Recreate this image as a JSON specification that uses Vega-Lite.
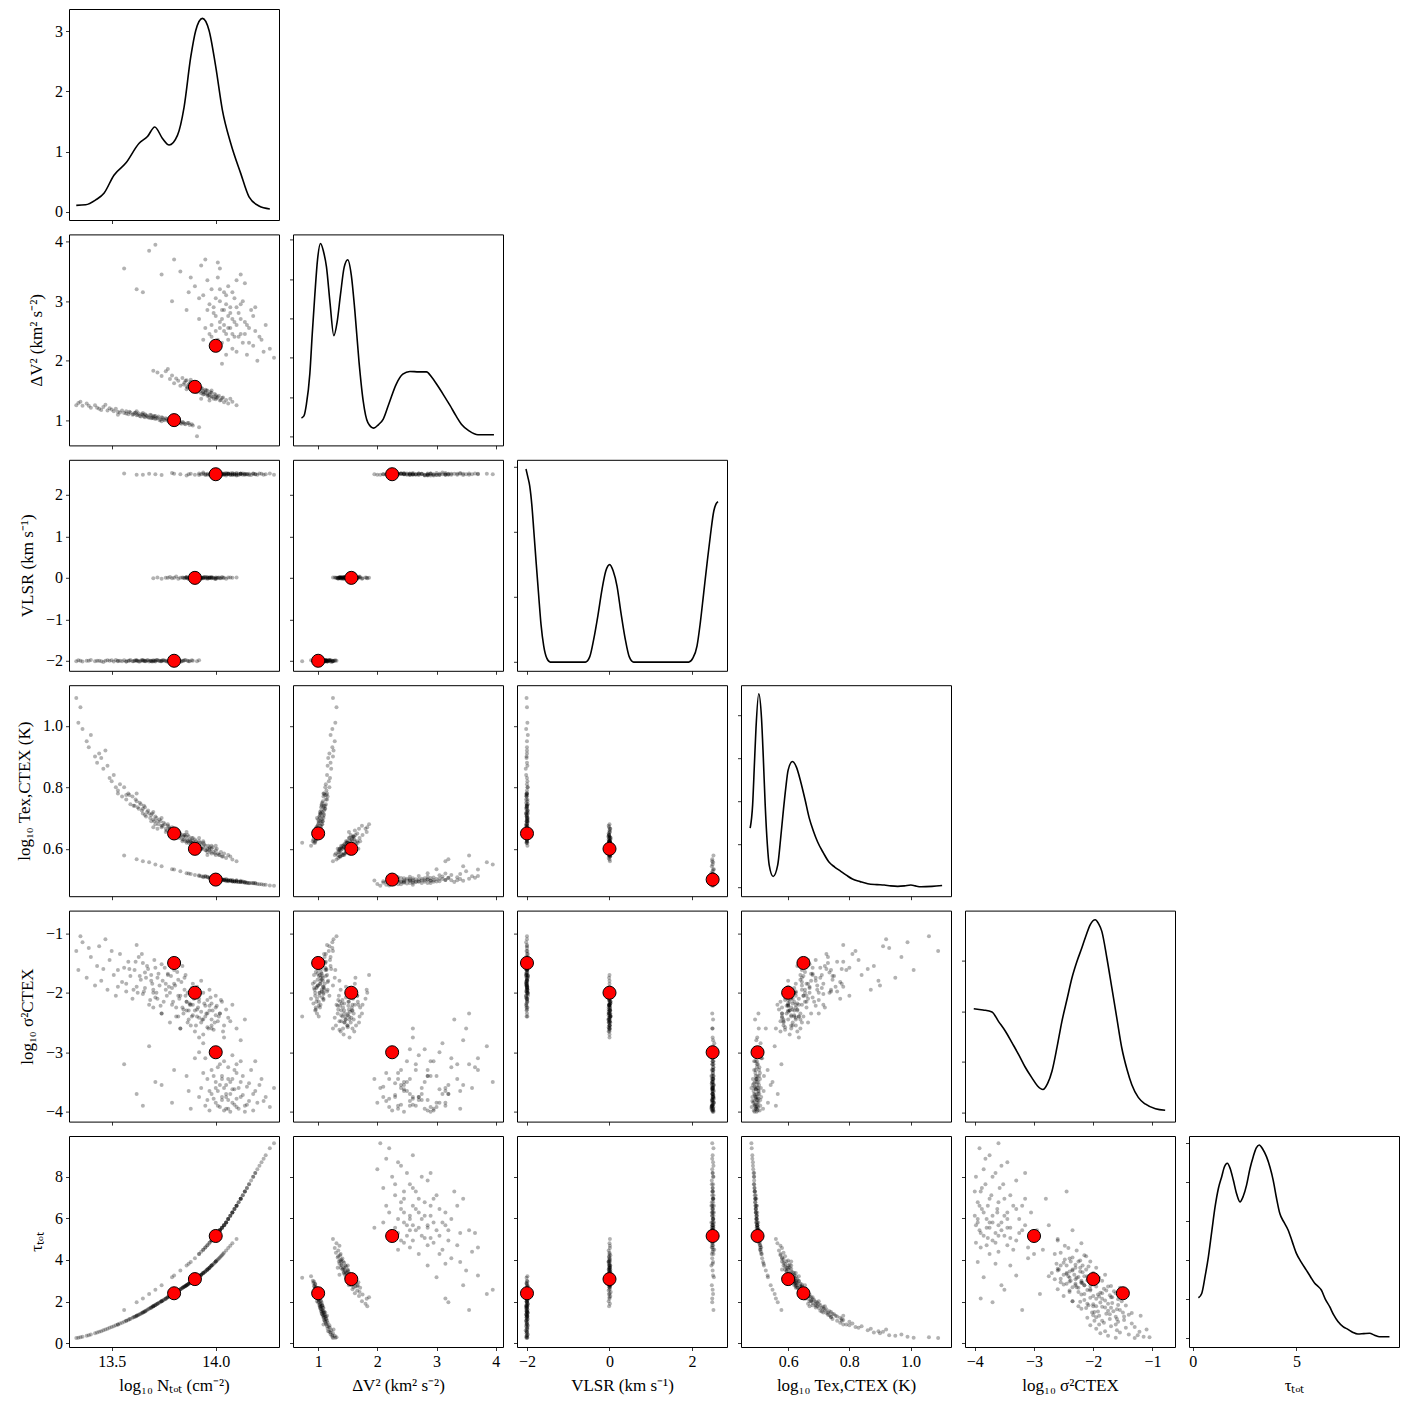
{
"$schema":"https://vega.github.io/schema/vega-lite/v6.json",
"background":"white",
"padding":{"left":15,"top":8,"right":5,"bottom":5},
"bounds":"flush",
"columns":6,
"spacing":{"row":14.4,"column":14},
"datasets":{
"samples":[
{"n":13.33,"dv":1.25,"v":-2.01,"t":1.09,"s":-1.30,"tau":0.25},
{"n":13.34,"dv":1.29,"v":-1.99,"t":1.01,"s":-1.62,"tau":0.27},
{"n":13.36,"dv":1.24,"v":-2.02,"t":0.99,"s":-1.15,"tau":0.31},
{"n":13.38,"dv":1.28,"v":-2.00,"t":0.95,"s":-1.75,"tau":0.36},
{"n":13.40,"dv":1.21,"v":-1.98,"t":0.97,"s":-1.40,"tau":0.42},
{"n":13.42,"dv":1.25,"v":-2.01,"t":0.90,"s":-1.88,"tau":0.48},
{"n":13.44,"dv":1.19,"v":-2.00,"t":0.91,"s":-1.22,"tau":0.55},
{"n":13.46,"dv":1.22,"v":-2.03,"t":0.86,"s":-1.60,"tau":0.62},
{"n":13.48,"dv":1.16,"v":-1.99,"t":0.87,"s":-1.95,"tau":0.70},
{"n":13.49,"dv":1.20,"v":-2.00,"t":0.83,"s":-1.45,"tau":0.74},
{"n":13.51,"dv":1.15,"v":-2.02,"t":0.84,"s":-1.70,"tau":0.82},
{"n":13.52,"dv":1.19,"v":-1.98,"t":0.80,"s":-2.05,"tau":0.86},
{"n":13.54,"dv":1.13,"v":-2.00,"t":0.81,"s":-1.35,"tau":0.95},
{"n":13.55,"dv":1.16,"v":-2.01,"t":0.77,"s":-1.82,"tau":0.99},
{"n":13.56,"dv":1.12,"v":-1.99,"t":0.80,"s":-1.58,"tau":1.03},
{"n":13.57,"dv":1.15,"v":-2.02,"t":0.76,"s":-1.98,"tau":1.08},
{"n":13.58,"dv":1.10,"v":-2.00,"t":0.78,"s":-1.48,"tau":1.12},
{"n":13.59,"dv":1.13,"v":-1.98,"t":0.745,"s":-1.72,"tau":1.17},
{"n":13.60,"dv":1.09,"v":-2.01,"t":0.77,"s":-2.10,"tau":1.22},
{"n":13.61,"dv":1.12,"v":-2.00,"t":0.74,"s":-1.62,"tau":1.27},
{"n":13.62,"dv":1.08,"v":-1.99,"t":0.755,"s":-1.90,"tau":1.32},
{"n":13.63,"dv":1.11,"v":-2.02,"t":0.73,"s":-1.40,"tau":1.37},
{"n":13.64,"dv":1.06,"v":-2.00,"t":0.745,"s":-1.78,"tau":1.42},
{"n":13.65,"dv":1.09,"v":-1.98,"t":0.715,"s":-2.02,"tau":1.48},
{"n":13.66,"dv":1.05,"v":-2.01,"t":0.735,"s":-1.66,"tau":1.54},
{"n":13.66,"dv":1.10,"v":-2.00,"t":0.71,"s":-1.92,"tau":1.53},
{"n":13.67,"dv":1.07,"v":-1.99,"t":0.72,"s":-1.55,"tau":1.60},
{"n":13.68,"dv":1.04,"v":-2.02,"t":0.715,"s":-2.20,"tau":1.66},
{"n":13.69,"dv":1.08,"v":-2.00,"t":0.69,"s":-1.80,"tau":1.72},
{"n":13.69,"dv":1.03,"v":-2.01,"t":0.71,"s":-1.70,"tau":1.71},
{"n":13.70,"dv":1.06,"v":-1.99,"t":0.695,"s":-1.95,"tau":1.78},
{"n":13.71,"dv":1.02,"v":-2.00,"t":0.705,"s":-1.58,"tau":1.84},
{"n":13.71,"dv":1.07,"v":-2.02,"t":0.68,"s":-2.08,"tau":1.83},
{"n":13.72,"dv":1.04,"v":-1.98,"t":0.69,"s":-1.75,"tau":1.90},
{"n":13.73,"dv":1.00,"v":-2.00,"t":0.695,"s":-1.88,"tau":1.96},
{"n":13.74,"dv":1.05,"v":-2.01,"t":0.67,"s":-1.52,"tau":2.02},
{"n":13.75,"dv":1.01,"v":-1.99,"t":0.685,"s":-2.15,"tau":2.08},
{"n":13.76,"dv":1.03,"v":-2.00,"t":0.665,"s":-1.85,"tau":2.14},
{"n":13.77,"dv":0.99,"v":-2.02,"t":0.675,"s":-1.68,"tau":2.21},
{"n":13.78,"dv":1.02,"v":-1.98,"t":0.655,"s":-2.00,"tau":2.27},
{"n":13.79,"dv":0.97,"v":-2.00,"t":0.67,"s":-1.92,"tau":2.34},
{"n":13.80,"dv":1.00,"v":-2.01,"t":0.645,"s":-1.62,"tau":2.40},
{"n":13.81,"dv":0.96,"v":-1.99,"t":0.66,"s":-2.25,"tau":2.46},
{"n":13.82,"dv":0.99,"v":-2.00,"t":0.64,"s":-1.78,"tau":2.53},
{"n":13.83,"dv":0.95,"v":-2.02,"t":0.65,"s":-2.05,"tau":2.59},
{"n":13.84,"dv":0.97,"v":-2.00,"t":0.63,"s":-1.55,"tau":2.66},
{"n":13.85,"dv":0.94,"v":-1.99,"t":0.645,"s":-1.95,"tau":2.72},
{"n":13.87,"dv":0.95,"v":-2.01,"t":0.62,"s":-2.30,"tau":2.86},
{"n":13.89,"dv":0.91,"v":-2.00,"t":0.625,"s":-1.85,"tau":3.00},
{"n":13.92,"dv":0.88,"v":-1.99,"t":0.61,"s":-2.10,"tau":3.22},
{"n":13.91,"dv":0.73,"v":-2.01,"t":0.62,"s":-2.40,"tau":3.15},
{"n":13.47,"dv":1.26,"v":-2.00,"t":0.92,"s":-1.10,"tau":0.66},
{"n":13.53,"dv":1.09,"v":-2.01,"t":0.78,"s":-1.90,"tau":0.90},
{"n":13.62,"dv":1.15,"v":-2.00,"t":0.78,"s":-1.20,"tau":1.32},
{"n":13.74,"dv":0.98,"v":-2.00,"t":0.70,"s":-2.35,"tau":2.02},
{"n":13.35,"dv":1.31,"v":-2.00,"t":1.06,"s":-1.05,"tau":0.29},
{"n":13.585,"dv":1.14,"v":-2.00,"t":0.775,"s":-1.60,"tau":1.17},
{"n":13.605,"dv":1.10,"v":-2.01,"t":0.74,"s":-1.95,"tau":1.25},
{"n":13.615,"dv":1.13,"v":-1.99,"t":0.76,"s":-1.48,"tau":1.29},
{"n":13.625,"dv":1.09,"v":-2.00,"t":0.735,"s":-2.00,"tau":1.34},
{"n":13.635,"dv":1.07,"v":-2.02,"t":0.75,"s":-1.72,"tau":1.39},
{"n":13.645,"dv":1.10,"v":-1.98,"t":0.725,"s":-1.35,"tau":1.45},
{"n":13.655,"dv":1.06,"v":-2.00,"t":0.74,"s":-1.98,"tau":1.50},
{"n":13.665,"dv":1.08,"v":-2.01,"t":0.705,"s":-1.75,"tau":1.56},
{"n":13.675,"dv":1.05,"v":-1.99,"t":0.725,"s":-1.60,"tau":1.63},
{"n":13.685,"dv":1.09,"v":-2.00,"t":0.70,"s":-2.12,"tau":1.69},
{"n":13.695,"dv":1.04,"v":-2.02,"t":0.715,"s":-1.85,"tau":1.75},
{"n":13.705,"dv":1.07,"v":-2.00,"t":0.69,"s":-1.45,"tau":1.81},
{"n":13.715,"dv":1.03,"v":-1.98,"t":0.70,"s":-2.00,"tau":1.87},
{"n":13.725,"dv":1.06,"v":-2.00,"t":0.68,"s":-1.68,"tau":1.93},
{"n":13.735,"dv":1.01,"v":-2.01,"t":0.69,"s":-2.22,"tau":1.99},
{"n":13.745,"dv":1.04,"v":-1.99,"t":0.675,"s":-1.80,"tau":2.05},
{"n":13.755,"dv":1.00,"v":-2.00,"t":0.68,"s":-1.58,"tau":2.11},
{"n":13.765,"dv":1.02,"v":-2.02,"t":0.66,"s":-2.05,"tau":2.18},
{"n":13.775,"dv":0.98,"v":-2.00,"t":0.67,"s":-1.90,"tau":2.24},
{"n":13.785,"dv":1.01,"v":-1.98,"t":0.65,"s":-1.72,"tau":2.30},
{"n":13.795,"dv":0.97,"v":-2.00,"t":0.66,"s":-2.15,"tau":2.37},
{"n":13.805,"dv":0.99,"v":-2.01,"t":0.645,"s":-1.88,"tau":2.43},
{"n":13.815,"dv":0.96,"v":-1.99,"t":0.655,"s":-1.65,"tau":2.50},
{"n":13.825,"dv":0.98,"v":-2.00,"t":0.635,"s":-2.10,"tau":2.56},
{"n":13.835,"dv":0.94,"v":-2.02,"t":0.645,"s":-1.82,"tau":2.62},
{"n":13.845,"dv":0.96,"v":-2.00,"t":0.63,"s":-2.28,"tau":2.69},
{"n":13.855,"dv":0.93,"v":-1.98,"t":0.64,"s":-1.70,"tau":2.75},
{"n":13.865,"dv":0.95,"v":-2.00,"t":0.625,"s":-2.00,"tau":2.82},
{"n":13.875,"dv":0.92,"v":-2.01,"t":0.63,"s":-2.18,"tau":2.89},
{"n":13.885,"dv":0.93,"v":-1.99,"t":0.62,"s":-1.92,"tau":2.96},
{"n":13.43,"dv":1.21,"v":-2.00,"t":0.88,"s":-1.55,"tau":0.52},
{"n":13.45,"dv":1.17,"v":-2.01,"t":0.895,"s":-1.80,"tau":0.58},
{"n":13.50,"dv":1.18,"v":-1.99,"t":0.82,"s":-1.30,"tau":0.78},
{"n":13.53,"dv":1.14,"v":-2.00,"t":0.79,"s":-1.62,"tau":0.90},
{"n":13.57,"dv":1.11,"v":-2.02,"t":0.775,"s":-1.85,"tau":1.08},
{"n":13.65,"dv":1.12,"v":-2.00,"t":0.73,"s":-1.50,"tau":1.48},
{"n":13.70,"dv":1.03,"v":-2.01,"t":0.72,"s":-2.25,"tau":1.78},
{"n":13.78,"dv":0.96,"v":-2.00,"t":0.665,"s":-1.45,"tau":2.27},
{"n":13.82,"dv":1.01,"v":-1.99,"t":0.65,"s":-2.40,"tau":2.53},
{"n":13.39,"dv":1.24,"v":-2.00,"t":0.93,"s":-1.25,"tau":0.39},
{"n":13.72,"dv":1.80,"v":0.01,"t":0.665,"s":-2.10,"tau":1.90},
{"n":13.74,"dv":1.74,"v":-0.02,"t":0.675,"s":-2.35,"tau":2.02},
{"n":13.76,"dv":1.82,"v":0.00,"t":0.655,"s":-1.95,"tau":2.14},
{"n":13.78,"dv":1.69,"v":0.02,"t":0.665,"s":-2.50,"tau":2.27},
{"n":13.79,"dv":1.75,"v":-0.01,"t":0.645,"s":-2.20,"tau":2.34},
{"n":13.80,"dv":1.62,"v":0.00,"t":0.66,"s":-1.85,"tau":2.40},
{"n":13.81,"dv":1.70,"v":0.03,"t":0.635,"s":-2.40,"tau":2.46},
{"n":13.82,"dv":1.66,"v":-0.02,"t":0.65,"s":-2.05,"tau":2.53},
{"n":13.83,"dv":1.58,"v":0.00,"t":0.64,"s":-2.60,"tau":2.59},
{"n":13.84,"dv":1.71,"v":0.01,"t":0.625,"s":-2.25,"tau":2.66},
{"n":13.85,"dv":1.63,"v":-0.01,"t":0.645,"s":-1.75,"tau":2.72},
{"n":13.86,"dv":1.57,"v":0.02,"t":0.63,"s":-2.30,"tau":2.79},
{"n":13.86,"dv":1.67,"v":0.00,"t":0.62,"s":-2.15,"tau":2.79},
{"n":13.87,"dv":1.60,"v":-0.03,"t":0.64,"s":-2.45,"tau":2.86},
{"n":13.88,"dv":1.54,"v":0.00,"t":0.625,"s":-1.98,"tau":2.93},
{"n":13.88,"dv":1.64,"v":0.01,"t":0.615,"s":-2.55,"tau":2.93},
{"n":13.89,"dv":1.58,"v":-0.01,"t":0.635,"s":-2.20,"tau":3.00},
{"n":13.89,"dv":1.50,"v":0.02,"t":0.62,"s":-2.38,"tau":3.00},
{"n":13.90,"dv":1.55,"v":0.00,"t":0.61,"s":-2.08,"tau":3.07},
{"n":13.90,"dv":1.61,"v":-0.02,"t":0.63,"s":-2.65,"tau":3.07},
{"n":13.91,"dv":1.52,"v":0.01,"t":0.615,"s":-2.28,"tau":3.14},
{"n":13.91,"dv":1.47,"v":0.00,"t":0.60,"s":-1.90,"tau":3.14},
{"n":13.92,"dv":1.56,"v":-0.01,"t":0.625,"s":-2.42,"tau":3.22},
{"n":13.92,"dv":1.51,"v":0.03,"t":0.605,"s":-2.15,"tau":3.22},
{"n":13.93,"dv":1.45,"v":0.00,"t":0.615,"s":-2.50,"tau":3.29},
{"n":13.93,"dv":1.54,"v":-0.02,"t":0.60,"s":-2.32,"tau":3.29},
{"n":13.94,"dv":1.49,"v":0.01,"t":0.62,"s":-2.00,"tau":3.37},
{"n":13.94,"dv":1.43,"v":0.00,"t":0.605,"s":-2.70,"tau":3.37},
{"n":13.95,"dv":1.51,"v":-0.01,"t":0.595,"s":-2.22,"tau":3.45},
{"n":13.95,"dv":1.46,"v":0.02,"t":0.61,"s":-2.40,"tau":3.45},
{"n":13.96,"dv":1.41,"v":0.00,"t":0.60,"s":-2.12,"tau":3.54},
{"n":13.96,"dv":1.50,"v":-0.02,"t":0.59,"s":-2.58,"tau":3.54},
{"n":13.97,"dv":1.44,"v":0.01,"t":0.605,"s":-2.30,"tau":3.63},
{"n":13.97,"dv":1.38,"v":0.00,"t":0.595,"s":-1.95,"tau":3.63},
{"n":13.98,"dv":1.46,"v":-0.01,"t":0.585,"s":-2.45,"tau":3.73},
{"n":13.98,"dv":1.40,"v":0.02,"t":0.60,"s":-2.18,"tau":3.73},
{"n":13.99,"dv":1.36,"v":0.00,"t":0.59,"s":-2.62,"tau":3.82},
{"n":14.00,"dv":1.42,"v":-0.02,"t":0.58,"s":-2.25,"tau":3.92},
{"n":14.00,"dv":1.35,"v":0.01,"t":0.595,"s":-2.05,"tau":3.92},
{"n":14.01,"dv":1.39,"v":0.00,"t":0.585,"s":-2.48,"tau":4.02},
{"n":14.02,"dv":1.33,"v":-0.01,"t":0.58,"s":-2.35,"tau":4.12},
{"n":14.03,"dv":1.37,"v":0.02,"t":0.575,"s":-2.15,"tau":4.23},
{"n":14.04,"dv":1.30,"v":0.00,"t":0.585,"s":-2.55,"tau":4.34},
{"n":14.05,"dv":1.34,"v":-0.02,"t":0.57,"s":-2.28,"tau":4.45},
{"n":14.06,"dv":1.28,"v":0.01,"t":0.58,"s":-2.42,"tau":4.57},
{"n":14.08,"dv":1.31,"v":0.00,"t":0.565,"s":-2.20,"tau":4.80},
{"n":13.77,"dv":1.86,"v":0.00,"t":0.68,"s":-1.70,"tau":2.21},
{"n":13.70,"dv":1.83,"v":-0.01,"t":0.67,"s":-2.00,"tau":1.78},
{"n":14.10,"dv":1.25,"v":0.01,"t":0.56,"s":-2.60,"tau":5.00},
{"n":13.93,"dv":1.36,"v":0.00,"t":0.60,"s":-1.80,"tau":3.29},
{"n":13.845,"dv":1.60,"v":0.00,"t":0.64,"s":-2.35,"tau":2.69},
{"n":13.855,"dv":1.66,"v":0.01,"t":0.625,"s":-2.05,"tau":2.75},
{"n":13.865,"dv":1.55,"v":-0.01,"t":0.645,"s":-2.50,"tau":2.82},
{"n":13.875,"dv":1.62,"v":0.00,"t":0.625,"s":-2.20,"tau":2.89},
{"n":13.885,"dv":1.52,"v":0.02,"t":0.635,"s":-2.40,"tau":2.96},
{"n":13.895,"dv":1.59,"v":-0.02,"t":0.615,"s":-2.10,"tau":3.03},
{"n":13.905,"dv":1.49,"v":0.00,"t":0.625,"s":-2.55,"tau":3.10},
{"n":13.915,"dv":1.57,"v":0.01,"t":0.61,"s":-2.25,"tau":3.18},
{"n":13.925,"dv":1.48,"v":-0.01,"t":0.62,"s":-2.00,"tau":3.25},
{"n":13.935,"dv":1.53,"v":0.00,"t":0.60,"s":-2.45,"tau":3.33},
{"n":13.945,"dv":1.44,"v":0.02,"t":0.615,"s":-2.18,"tau":3.41},
{"n":13.955,"dv":1.50,"v":0.00,"t":0.595,"s":-2.35,"tau":3.49},
{"n":13.965,"dv":1.42,"v":-0.01,"t":0.61,"s":-2.60,"tau":3.58},
{"n":13.975,"dv":1.47,"v":0.01,"t":0.59,"s":-2.08,"tau":3.68},
{"n":13.985,"dv":1.39,"v":0.00,"t":0.605,"s":-2.30,"tau":3.77},
{"n":13.995,"dv":1.44,"v":-0.02,"t":0.585,"s":-2.50,"tau":3.87},
{"n":14.005,"dv":1.37,"v":0.00,"t":0.60,"s":-2.22,"tau":3.97},
{"n":14.015,"dv":1.41,"v":0.01,"t":0.58,"s":-2.40,"tau":4.07},
{"n":14.025,"dv":1.34,"v":-0.01,"t":0.59,"s":-2.12,"tau":4.18},
{"n":14.035,"dv":1.38,"v":0.00,"t":0.575,"s":-2.65,"tau":4.29},
{"n":13.90,"dv":1.58,"v":0.01,"t":0.60,"s":-2.30,"tau":3.07},
{"n":13.92,"dv":1.53,"v":0.00,"t":0.635,"s":-2.75,"tau":3.22},
{"n":13.94,"dv":1.47,"v":-0.01,"t":0.625,"s":-2.45,"tau":3.37},
{"n":13.96,"dv":1.44,"v":0.02,"t":0.58,"s":-2.35,"tau":3.54},
{"n":13.88,"dv":1.68,"v":0.00,"t":0.60,"s":-2.20,"tau":2.93},
{"n":13.98,"dv":1.50,"v":0.00,"t":0.61,"s":-2.55,"tau":3.73},
{"n":14.00,"dv":1.39,"v":-0.02,"t":0.61,"s":-2.38,"tau":3.92},
{"n":13.86,"dv":1.52,"v":0.01,"t":0.655,"s":-2.15,"tau":2.79},
{"n":13.97,"dv":1.33,"v":0.00,"t":0.60,"s":-2.22,"tau":3.63},
{"n":14.07,"dv":1.36,"v":0.01,"t":0.575,"s":-2.48,"tau":4.68},
{"n":13.56,"dv":3.55,"v":2.52,"t":0.578,"s":-3.20,"tau":1.60},
{"n":13.62,"dv":3.20,"v":2.49,"t":0.566,"s":-3.70,"tau":1.97},
{"n":13.68,"dv":3.85,"v":2.51,"t":0.556,"s":-2.90,"tau":2.36},
{"n":13.74,"dv":3.45,"v":2.48,"t":0.543,"s":-3.55,"tau":2.78},
{"n":13.79,"dv":3.00,"v":2.53,"t":0.534,"s":-3.85,"tau":3.17},
{"n":13.83,"dv":3.50,"v":2.50,"t":0.527,"s":-2.60,"tau":3.49},
{"n":13.86,"dv":2.85,"v":2.47,"t":0.521,"s":-3.40,"tau":3.73},
{"n":13.88,"dv":3.40,"v":2.51,"t":0.518,"s":-3.95,"tau":3.90},
{"n":13.90,"dv":3.25,"v":2.49,"t":0.515,"s":-3.10,"tau":4.08},
{"n":13.92,"dv":2.70,"v":2.52,"t":0.512,"s":-3.75,"tau":4.29},
{"n":13.93,"dv":3.60,"v":2.50,"t":0.511,"s":-3.60,"tau":4.39},
{"n":13.94,"dv":3.10,"v":2.54,"t":0.510,"s":-2.85,"tau":4.49},
{"n":13.95,"dv":2.55,"v":2.48,"t":0.509,"s":-3.90,"tau":4.60},
{"n":13.96,"dv":3.35,"v":2.51,"t":0.508,"s":-3.45,"tau":4.71},
{"n":13.97,"dv":2.95,"v":2.49,"t":0.507,"s":-3.98,"tau":4.82},
{"n":13.98,"dv":2.40,"v":2.52,"t":0.505,"s":-3.30,"tau":4.93},
{"n":13.98,"dv":3.20,"v":2.50,"t":0.506,"s":-3.70,"tau":4.93},
{"n":13.99,"dv":2.80,"v":2.47,"t":0.504,"s":-2.95,"tau":5.05},
{"n":14.00,"dv":3.05,"v":2.51,"t":0.503,"s":-3.85,"tau":5.16},
{"n":14.00,"dv":2.50,"v":2.49,"t":0.503,"s":-3.50,"tau":5.16},
{"n":14.01,"dv":3.40,"v":2.53,"t":0.502,"s":-3.65,"tau":5.29},
{"n":14.02,"dv":2.65,"v":2.50,"t":0.501,"s":-3.20,"tau":5.42},
{"n":14.02,"dv":3.00,"v":2.48,"t":0.502,"s":-3.92,"tau":5.42},
{"n":14.03,"dv":2.30,"v":2.51,"t":0.500,"s":-3.75,"tau":5.55},
{"n":14.03,"dv":2.85,"v":2.52,"t":0.500,"s":-3.40,"tau":5.55},
{"n":14.04,"dv":3.15,"v":2.49,"t":0.499,"s":-3.60,"tau":5.67},
{"n":14.04,"dv":2.60,"v":2.50,"t":0.499,"s":-2.75,"tau":5.67},
{"n":14.05,"dv":2.95,"v":2.47,"t":0.498,"s":-3.95,"tau":5.80},
{"n":14.05,"dv":2.45,"v":2.53,"t":0.498,"s":-3.55,"tau":5.80},
{"n":14.06,"dv":2.75,"v":2.50,"t":0.497,"s":-3.80,"tau":5.96},
{"n":14.06,"dv":3.25,"v":2.51,"t":0.498,"s":-3.25,"tau":5.96},
{"n":14.07,"dv":2.55,"v":2.49,"t":0.496,"s":-3.70,"tau":6.12},
{"n":14.07,"dv":2.90,"v":2.52,"t":0.497,"s":-4.00,"tau":6.12},
{"n":14.08,"dv":2.20,"v":2.48,"t":0.495,"s":-3.45,"tau":6.28},
{"n":14.08,"dv":2.70,"v":2.50,"t":0.495,"s":-3.05,"tau":6.28},
{"n":14.09,"dv":2.40,"v":2.51,"t":0.494,"s":-3.88,"tau":6.44},
{"n":14.09,"dv":3.05,"v":2.49,"t":0.495,"s":-3.62,"tau":6.44},
{"n":14.10,"dv":2.60,"v":2.53,"t":0.494,"s":-3.78,"tau":6.60},
{"n":14.10,"dv":2.15,"v":2.50,"t":0.493,"s":-3.35,"tau":6.60},
{"n":14.11,"dv":2.80,"v":2.48,"t":0.493,"s":-3.95,"tau":6.77},
{"n":14.12,"dv":2.45,"v":2.51,"t":0.492,"s":-3.50,"tau":6.94},
{"n":14.12,"dv":2.95,"v":2.50,"t":0.493,"s":-3.15,"tau":6.94},
{"n":14.13,"dv":2.30,"v":2.52,"t":0.491,"s":-3.72,"tau":7.11},
{"n":14.14,"dv":2.65,"v":2.49,"t":0.491,"s":-3.90,"tau":7.28},
{"n":14.15,"dv":2.10,"v":2.50,"t":0.490,"s":-3.58,"tau":7.45},
{"n":14.16,"dv":2.55,"v":2.51,"t":0.489,"s":-3.82,"tau":7.63},
{"n":14.17,"dv":2.85,"v":2.48,"t":0.489,"s":-3.30,"tau":7.81},
{"n":14.18,"dv":2.25,"v":2.52,"t":0.488,"s":-3.98,"tau":7.99},
{"n":14.19,"dv":2.50,"v":2.50,"t":0.487,"s":-3.65,"tau":8.17},
{"n":14.20,"dv":2.00,"v":2.49,"t":0.486,"s":-3.85,"tau":8.35},
{"n":14.22,"dv":2.35,"v":2.51,"t":0.485,"s":-3.45,"tau":8.69},
{"n":14.24,"dv":2.60,"v":2.50,"t":0.483,"s":-3.75,"tau":9.03},
{"n":14.26,"dv":2.20,"v":2.52,"t":0.481,"s":-3.92,"tau":9.36},
{"n":14.28,"dv":2.05,"v":2.49,"t":0.480,"s":-3.60,"tau":9.60},
{"n":13.95,"dv":3.70,"v":2.50,"t":0.512,"s":-3.10,"tau":4.60},
{"n":14.14,"dv":3.30,"v":2.51,"t":0.492,"s":-2.45,"tau":7.28},
{"n":14.02,"dv":3.55,"v":2.49,"t":0.503,"s":-2.35,"tau":5.42},
{"n":13.99,"dv":2.20,"v":2.50,"t":0.503,"s":-3.78,"tau":5.05},
{"n":13.97,"dv":2.45,"v":2.50,"t":0.504,"s":-3.65,"tau":4.82},
{"n":13.99,"dv":2.90,"v":2.52,"t":0.505,"s":-3.40,"tau":5.05},
{"n":14.01,"dv":2.35,"v":2.49,"t":0.499,"s":-3.90,"tau":5.29},
{"n":14.02,"dv":3.20,"v":2.51,"t":0.505,"s":-3.55,"tau":5.42},
{"n":14.03,"dv":2.70,"v":2.48,"t":0.500,"s":-3.80,"tau":5.55},
{"n":14.04,"dv":2.50,"v":2.52,"t":0.498,"s":-3.15,"tau":5.67},
{"n":14.05,"dv":3.10,"v":2.50,"t":0.502,"s":-3.70,"tau":5.80},
{"n":14.06,"dv":2.35,"v":2.51,"t":0.495,"s":-3.95,"tau":5.96},
{"n":14.07,"dv":2.80,"v":2.49,"t":0.498,"s":-3.50,"tau":6.12},
{"n":14.08,"dv":3.15,"v":2.53,"t":0.499,"s":-3.85,"tau":6.28},
{"n":14.09,"dv":2.65,"v":2.50,"t":0.494,"s":-3.30,"tau":6.44},
{"n":14.10,"dv":2.90,"v":2.47,"t":0.496,"s":-3.92,"tau":6.60},
{"n":14.11,"dv":2.40,"v":2.51,"t":0.492,"s":-3.60,"tau":6.77},
{"n":14.12,"dv":2.70,"v":2.52,"t":0.493,"s":-3.75,"tau":6.94},
{"n":14.13,"dv":3.00,"v":2.49,"t":0.494,"s":-3.40,"tau":7.11},
{"n":14.15,"dv":2.60,"v":2.50,"t":0.490,"s":-3.88,"tau":7.45},
{"n":14.16,"dv":2.30,"v":2.48,"t":0.488,"s":-3.52,"tau":7.63},
{"n":14.18,"dv":2.75,"v":2.51,"t":0.489,"s":-3.70,"tau":7.99},
{"n":14.02,"dv":2.55,"v":2.50,"t":0.501,"s":-2.95,"tau":5.42},
{"n":14.00,"dv":2.75,"v":2.51,"t":0.503,"s":-3.60,"tau":5.16},
{"n":13.96,"dv":2.85,"v":2.49,"t":0.509,"s":-3.80,"tau":4.71},
{"n":14.04,"dv":2.85,"v":2.50,"t":0.500,"s":-3.98,"tau":5.67},
{"n":14.06,"dv":2.55,"v":2.52,"t":0.497,"s":-3.45,"tau":5.96},
{"n":14.08,"dv":2.45,"v":2.50,"t":0.494,"s":-3.62,"tau":6.28},
{"n":14.10,"dv":3.35,"v":2.49,"t":0.498,"s":-3.20,"tau":6.60},
{"n":13.94,"dv":2.35,"v":2.51,"t":0.508,"s":-3.35,"tau":4.49},
{"n":14.14,"dv":2.45,"v":2.50,"t":0.490,"s":-4.00,"tau":7.28},
{"n":14.21,"dv":2.40,"v":2.52,"t":0.485,"s":-3.55,"tau":8.52},
{"n":14.23,"dv":2.15,"v":2.49,"t":0.483,"s":-3.82,"tau":8.86},
{"n":13.87,"dv":3.15,"v":2.50,"t":0.520,"s":-3.65,"tau":3.82},
{"n":13.80,"dv":3.70,"v":2.51,"t":0.533,"s":-3.30,"tau":3.25},
{"n":13.71,"dv":3.95,"v":2.50,"t":0.549,"s":-3.50,"tau":2.57},
{"n":13.65,"dv":3.15,"v":2.49,"t":0.560,"s":-3.90,"tau":2.15},
{"n":14.01,"dv":3.65,"v":2.52,"t":0.506,"s":-3.25,"tau":5.29},
{"n":14.05,"dv":2.10,"v":2.50,"t":0.495,"s":-3.75,"tau":5.80},
{"n":13.92,"dv":3.05,"v":2.48,"t":0.514,"s":-3.00,"tau":4.29},
{"n":14.12,"dv":3.45,"v":2.51,"t":0.496,"s":-2.80,"tau":6.94},
{"n":14.03,"dv":1.95,"v":2.50,"t":0.497,"s":-3.45,"tau":5.55},
{"n":14.19,"dv":2.90,"v":2.50,"t":0.489,"s":-3.15,"tau":8.17},
{"n":13.98,"dv":2.60,"v":2.49,"t":0.504,"s":-2.60,"tau":4.93}
],
"truth":[
{"n":13.8,"dv":1.0,"v":-2.0,"t":0.65,"s":-1.5,"tau":2.4},
{"n":13.9,"dv":1.56,"v":0.0,"t":0.6,"s":-2.0,"tau":3.08},
{"n":14.0,"dv":2.25,"v":2.5,"t":0.5,"s":-3.0,"tau":5.15}
],
"kde_n":[
{"x":13.33,"d":0.11},{"x":13.375,"d":0.12},{"x":13.423,"d":0.2},{"x":13.463,"d":0.31},{"x":13.511,"d":0.61},{"x":13.568,"d":0.81},{"x":13.632,"d":1.14},{"x":13.672,"d":1.25},{"x":13.707,"d":1.41},{"x":13.744,"d":1.22},{"x":13.776,"d":1.11},{"x":13.816,"d":1.27},{"x":13.848,"d":1.74},{"x":13.88,"d":2.57},{"x":13.904,"d":3.01},{"x":13.936,"d":3.21},{"x":13.968,"d":3.01},{"x":14.0,"d":2.41},{"x":14.032,"d":1.69},{"x":14.072,"d":1.14},{"x":14.12,"d":0.64},{"x":14.16,"d":0.25},{"x":14.208,"d":0.10},{"x":14.26,"d":0.05}
],
"kde_dv":[
{"x":0.718,"d":0.047},{"x":0.76,"d":0.052},{"x":0.80,"d":0.08},{"x":0.86,"d":0.16},{"x":0.90,"d":0.26},{"x":0.944,"d":0.36},{"x":0.99,"d":0.45},{"x":1.04,"d":0.49},{"x":1.09,"d":0.47},{"x":1.141,"d":0.43},{"x":1.20,"d":0.34},{"x":1.265,"d":0.256},{"x":1.32,"d":0.29},{"x":1.377,"d":0.36},{"x":1.44,"d":0.43},{"x":1.50,"d":0.449},{"x":1.56,"d":0.41},{"x":1.62,"d":0.319},{"x":1.69,"d":0.19},{"x":1.76,"d":0.091},{"x":1.84,"d":0.035},{"x":1.94,"d":0.021},{"x":2.02,"d":0.03},{"x":2.10,"d":0.044},{"x":2.2,"d":0.085},{"x":2.32,"d":0.133},{"x":2.43,"d":0.158},{"x":2.55,"d":0.165},{"x":2.7,"d":0.164},{"x":2.83,"d":0.164},{"x":2.92,"d":0.15},{"x":3.0,"d":0.133},{"x":3.12,"d":0.105},{"x":3.23,"d":0.078},{"x":3.33,"d":0.052},{"x":3.42,"d":0.031},{"x":3.55,"d":0.014},{"x":3.70,"d":0.004},{"x":3.97,"d":0.004}
],
"kde_v":[
{"x":-2.024,"d":2.97},{"x":-1.98,"d":2.85},{"x":-1.934,"d":2.71},{"x":-1.88,"d":2.4},{"x":-1.837,"d":2.04},{"x":-1.78,"d":1.55},{"x":-1.716,"d":1.02},{"x":-1.66,"d":0.58},{"x":-1.595,"d":0.25},{"x":-1.52,"d":0.06},{"x":-1.435,"d":0.0},{"x":-0.586,"d":0.0},{"x":-0.48,"d":0.08},{"x":-0.383,"d":0.35},{"x":-0.28,"d":0.72},{"x":-0.181,"d":1.12},{"x":-0.09,"d":1.40},{"x":0.005,"d":1.5},{"x":0.09,"d":1.40},{"x":0.182,"d":1.17},{"x":0.28,"d":0.75},{"x":0.383,"d":0.35},{"x":0.48,"d":0.08},{"x":0.587,"d":0.0},{"x":1.92,"d":0.0},{"x":2.02,"d":0.06},{"x":2.122,"d":0.25},{"x":2.2,"d":0.6},{"x":2.284,"d":1.07},{"x":2.37,"d":1.55},{"x":2.444,"d":1.94},{"x":2.527,"d":2.32},{"x":2.58,"d":2.43},{"x":2.63,"d":2.47}
],
"kde_t":[
{"x":0.476,"d":1.375},{"x":0.484,"d":1.92},{"x":0.49,"d":2.9},{"x":0.495,"d":3.71},{"x":0.504,"d":4.51},{"x":0.513,"d":3.94},{"x":0.519,"d":3.0},{"x":0.525,"d":1.92},{"x":0.532,"d":1.0},{"x":0.538,"d":0.52},{"x":0.551,"d":0.25},{"x":0.566,"d":0.52},{"x":0.575,"d":1.1},{"x":0.584,"d":1.76},{"x":0.592,"d":2.3},{"x":0.600,"d":2.73},{"x":0.614,"d":2.93},{"x":0.627,"d":2.8},{"x":0.641,"d":2.46},{"x":0.655,"d":2.05},{"x":0.669,"d":1.61},{"x":0.683,"d":1.3},{"x":0.696,"d":1.06},{"x":0.715,"d":0.8},{"x":0.734,"d":0.58},{"x":0.752,"d":0.47},{"x":0.772,"d":0.37},{"x":0.79,"d":0.28},{"x":0.81,"d":0.19},{"x":0.835,"d":0.13},{"x":0.86,"d":0.08},{"x":0.89,"d":0.06},{"x":0.914,"d":0.05},{"x":0.935,"d":0.03},{"x":0.958,"d":0.02},{"x":0.98,"d":0.03},{"x":1.001,"d":0.05},{"x":1.015,"d":0.03},{"x":1.034,"d":0.01},{"x":1.07,"d":0.02},{"x":1.103,"d":0.04}
],
"kde_s":[
{"x":-4.017,"d":0.41},{"x":-3.86,"d":0.405},{"x":-3.709,"d":0.397},{"x":-3.6,"d":0.36},{"x":-3.483,"d":0.321},{"x":-3.37,"d":0.275},{"x":-3.259,"d":0.229},{"x":-3.15,"d":0.18},{"x":-3.035,"d":0.137},{"x":-2.94,"d":0.105},{"x":-2.849,"d":0.091},{"x":-2.77,"d":0.115},{"x":-2.697,"d":0.163},{"x":-2.61,"d":0.26},{"x":-2.529,"d":0.36},{"x":-2.44,"d":0.45},{"x":-2.36,"d":0.531},{"x":-2.27,"d":0.6},{"x":-2.192,"d":0.65},{"x":-2.12,"d":0.7},{"x":-2.05,"d":0.742},{"x":-1.966,"d":0.761},{"x":-1.91,"d":0.745},{"x":-1.855,"d":0.715},{"x":-1.77,"d":0.61},{"x":-1.686,"d":0.492},{"x":-1.6,"d":0.37},{"x":-1.518,"d":0.255},{"x":-1.43,"d":0.17},{"x":-1.349,"d":0.11},{"x":-1.24,"d":0.06},{"x":-1.123,"d":0.034},{"x":-0.95,"d":0.015},{"x":-0.786,"d":0.009}
],
"kde_tau":[
{"x":0.274,"d":0.104},{"x":0.433,"d":0.115},{"x":0.6,"d":0.16},{"x":0.755,"d":0.209},{"x":0.92,"d":0.275},{"x":1.077,"d":0.337},{"x":1.24,"d":0.385},{"x":1.394,"d":0.414},{"x":1.53,"d":0.44},{"x":1.668,"d":0.449},{"x":1.81,"d":0.435},{"x":1.957,"d":0.406},{"x":2.12,"d":0.37},{"x":2.279,"d":0.35},{"x":2.44,"d":0.365},{"x":2.596,"d":0.393},{"x":2.76,"d":0.435},{"x":2.918,"d":0.466},{"x":3.06,"d":0.488},{"x":3.207,"d":0.496},{"x":3.38,"d":0.485},{"x":3.558,"d":0.466},{"x":3.72,"d":0.44},{"x":3.88,"d":0.406},{"x":4.04,"d":0.36},{"x":4.202,"d":0.32},{"x":4.4,"d":0.298},{"x":4.6,"d":0.278},{"x":4.8,"d":0.248},{"x":5.0,"d":0.218},{"x":5.24,"d":0.195},{"x":5.48,"d":0.175},{"x":5.68,"d":0.158},{"x":5.885,"d":0.141},{"x":6.05,"d":0.133},{"x":6.202,"d":0.124},{"x":6.4,"d":0.1},{"x":6.606,"d":0.081},{"x":6.8,"d":0.06},{"x":7.005,"d":0.043},{"x":7.25,"d":0.03},{"x":7.486,"d":0.023},{"x":7.73,"d":0.015},{"x":7.966,"d":0.011},{"x":8.25,"d":0.012},{"x":8.529,"d":0.013},{"x":8.77,"d":0.008},{"x":9.01,"d":0.004},{"x":9.49,"d":0.004}
],
"blank":[{"a":0}]
},
"concat":[
{"width":210,"height":211,"data":{"name":"kde_n"},"mark":{"type":"line","color":"black","strokeWidth":1.6,"interpolate":"monotone"},
 "encoding":{"x":{"field":"x","type":"quantitative","scale":{"domain":[13.295,14.304],"nice":false,"zero":false},"axis":{"values":[13.5,14.0],"labels":false,"title":null}},
 "y":{"field":"d","type":"quantitative","scale":{"domain":[-0.133,3.365],"nice":false,"zero":false},"axis":{"values":[0,1,2,3],"format":"d","title":null}}}},
{"width":210,"height":211,"view":{"stroke":null},"data":{"name":"blank"},"mark":{"type":"point","opacity":0},"encoding":{}},
{"width":210,"height":211,"view":{"stroke":null},"data":{"name":"blank"},"mark":{"type":"point","opacity":0},"encoding":{}},
{"width":210,"height":211,"view":{"stroke":null},"data":{"name":"blank"},"mark":{"type":"point","opacity":0},"encoding":{}},
{"width":210,"height":211,"view":{"stroke":null},"data":{"name":"blank"},"mark":{"type":"point","opacity":0},"encoding":{}},
{"width":210,"height":211,"view":{"stroke":null},"data":{"name":"blank"},"mark":{"type":"point","opacity":0},"encoding":{}},

{"width":210,"height":211,
 "encoding":{"x":{"field":"n","type":"quantitative","scale":{"domain":[13.295,14.304],"nice":false,"zero":false},"axis":{"values":[13.5,14.0],"labels":false,"title":null}},
 "y":{"field":"dv","type":"quantitative","scale":{"domain":[0.575,4.123],"nice":false,"zero":false},"axis":{"values":[1,2,3,4],"format":"d","title":"ΔV² (km² s⁻²)"}}},
 "layer":[{"data":{"name":"samples"},"mark":{"type":"circle","size":16,"color":"black","opacity":0.3}},{"data":{"name":"truth"},"mark":{"type":"circle","size":170,"fill":"#ff0000","stroke":"black","strokeWidth":1,"opacity":1}}]},
{"width":210,"height":211,"data":{"name":"kde_dv"},"mark":{"type":"line","color":"black","strokeWidth":1.6,"interpolate":"monotone"},
 "encoding":{"x":{"field":"x","type":"quantitative","scale":{"domain":[0.575,4.123],"nice":false,"zero":false},"axis":{"values":[1,2,3,4],"labels":false,"title":null}},
 "y":{"field":"d","type":"quantitative","scale":{"domain":[-0.0229,0.5133],"nice":false,"zero":false},"axis":{"values":[0,0.1,0.2,0.3,0.4,0.5],"labels":false,"title":null}}}},
{"width":210,"height":211,"view":{"stroke":null},"data":{"name":"blank"},"mark":{"type":"point","opacity":0},"encoding":{}},
{"width":210,"height":211,"view":{"stroke":null},"data":{"name":"blank"},"mark":{"type":"point","opacity":0},"encoding":{}},
{"width":210,"height":211,"view":{"stroke":null},"data":{"name":"blank"},"mark":{"type":"point","opacity":0},"encoding":{}},
{"width":210,"height":211,"view":{"stroke":null},"data":{"name":"blank"},"mark":{"type":"point","opacity":0},"encoding":{}},

{"width":210,"height":211,
 "encoding":{"x":{"field":"n","type":"quantitative","scale":{"domain":[13.295,14.304],"nice":false,"zero":false},"axis":{"values":[13.5,14.0],"labels":false,"title":null}},
 "y":{"field":"v","type":"quantitative","scale":{"domain":[-2.242,2.848],"nice":false,"zero":false},"axis":{"values":[-2,-1,0,1,2],"format":"d","title":"VLSR (km s⁻¹)"}}},
 "layer":[{"data":{"name":"samples"},"mark":{"type":"circle","size":16,"color":"black","opacity":0.3}},{"data":{"name":"truth"},"mark":{"type":"circle","size":170,"fill":"#ff0000","stroke":"black","strokeWidth":1,"opacity":1}}]},
{"width":210,"height":211,
 "encoding":{"x":{"field":"dv","type":"quantitative","scale":{"domain":[0.575,4.123],"nice":false,"zero":false},"axis":{"values":[1,2,3,4],"labels":false,"title":null}},
 "y":{"field":"v","type":"quantitative","scale":{"domain":[-2.242,2.848],"nice":false,"zero":false},"axis":{"values":[-2,-1,0,1,2],"labels":false,"title":null}}},
 "layer":[{"data":{"name":"samples"},"mark":{"type":"circle","size":16,"color":"black","opacity":0.3}},{"data":{"name":"truth"},"mark":{"type":"circle","size":170,"fill":"#ff0000","stroke":"black","strokeWidth":1,"opacity":1}}]},
{"width":210,"height":211,"data":{"name":"kde_v"},"mark":{"type":"line","color":"black","strokeWidth":1.6,"interpolate":"monotone"},
 "encoding":{"x":{"field":"x","type":"quantitative","scale":{"domain":[-2.242,2.848],"nice":false,"zero":false},"axis":{"values":[-2,0,2],"labels":false,"title":null}},
 "y":{"field":"d","type":"quantitative","scale":{"domain":[-0.134,3.112],"nice":false,"zero":false},"axis":{"values":[0,1,2,3],"labels":false,"title":null}}}},
{"width":210,"height":211,"view":{"stroke":null},"data":{"name":"blank"},"mark":{"type":"point","opacity":0},"encoding":{}},
{"width":210,"height":211,"view":{"stroke":null},"data":{"name":"blank"},"mark":{"type":"point","opacity":0},"encoding":{}},
{"width":210,"height":211,"view":{"stroke":null},"data":{"name":"blank"},"mark":{"type":"point","opacity":0},"encoding":{}},

{"width":210,"height":211,
 "encoding":{"x":{"field":"n","type":"quantitative","scale":{"domain":[13.295,14.304],"nice":false,"zero":false},"axis":{"values":[13.5,14.0],"labels":false,"title":null}},
 "y":{"field":"t","type":"quantitative","scale":{"domain":[0.446,1.132],"nice":false,"zero":false},"axis":{"values":[0.6,0.8,1.0],"format":".1f","title":"log₁₀ Tex,CTEX (K)"}}},
 "layer":[{"data":{"name":"samples"},"mark":{"type":"circle","size":16,"color":"black","opacity":0.3}},{"data":{"name":"truth"},"mark":{"type":"circle","size":170,"fill":"#ff0000","stroke":"black","strokeWidth":1,"opacity":1}}]},
{"width":210,"height":211,
 "encoding":{"x":{"field":"dv","type":"quantitative","scale":{"domain":[0.575,4.123],"nice":false,"zero":false},"axis":{"values":[1,2,3,4],"labels":false,"title":null}},
 "y":{"field":"t","type":"quantitative","scale":{"domain":[0.446,1.132],"nice":false,"zero":false},"axis":{"values":[0.6,0.8,1.0],"labels":false,"title":null}}},
 "layer":[{"data":{"name":"samples"},"mark":{"type":"circle","size":16,"color":"black","opacity":0.3}},{"data":{"name":"truth"},"mark":{"type":"circle","size":170,"fill":"#ff0000","stroke":"black","strokeWidth":1,"opacity":1}}]},
{"width":210,"height":211,
 "encoding":{"x":{"field":"v","type":"quantitative","scale":{"domain":[-2.242,2.848],"nice":false,"zero":false},"axis":{"values":[-2,0,2],"labels":false,"title":null}},
 "y":{"field":"t","type":"quantitative","scale":{"domain":[0.446,1.132],"nice":false,"zero":false},"axis":{"values":[0.6,0.8,1.0],"labels":false,"title":null}}},
 "layer":[{"data":{"name":"samples"},"mark":{"type":"circle","size":16,"color":"black","opacity":0.3}},{"data":{"name":"truth"},"mark":{"type":"circle","size":170,"fill":"#ff0000","stroke":"black","strokeWidth":1,"opacity":1}}]},
{"width":210,"height":211,"data":{"name":"kde_t"},"mark":{"type":"line","color":"black","strokeWidth":1.6,"interpolate":"monotone"},
 "encoding":{"x":{"field":"x","type":"quantitative","scale":{"domain":[0.446,1.132],"nice":false,"zero":false},"axis":{"values":[0.6,0.8,1.0],"labels":false,"title":null}},
 "y":{"field":"d","type":"quantitative","scale":{"domain":[-0.21,4.709],"nice":false,"zero":false},"axis":{"values":[0,1,2,3,4],"labels":false,"title":null}}}},
{"width":210,"height":211,"view":{"stroke":null},"data":{"name":"blank"},"mark":{"type":"point","opacity":0},"encoding":{}},
{"width":210,"height":211,"view":{"stroke":null},"data":{"name":"blank"},"mark":{"type":"point","opacity":0},"encoding":{}},

{"width":210,"height":211,
 "encoding":{"x":{"field":"n","type":"quantitative","scale":{"domain":[13.295,14.304],"nice":false,"zero":false},"axis":{"values":[13.5,14.0],"labels":false,"title":null}},
 "y":{"field":"s","type":"quantitative","scale":{"domain":[-4.165,-0.62],"nice":false,"zero":false},"axis":{"values":[-4,-3,-2,-1],"format":"d","title":"log₁₀ σ²CTEX"}}},
 "layer":[{"data":{"name":"samples"},"mark":{"type":"circle","size":16,"color":"black","opacity":0.3}},{"data":{"name":"truth"},"mark":{"type":"circle","size":170,"fill":"#ff0000","stroke":"black","strokeWidth":1,"opacity":1}}]},
{"width":210,"height":211,
 "encoding":{"x":{"field":"dv","type":"quantitative","scale":{"domain":[0.575,4.123],"nice":false,"zero":false},"axis":{"values":[1,2,3,4],"labels":false,"title":null}},
 "y":{"field":"s","type":"quantitative","scale":{"domain":[-4.165,-0.62],"nice":false,"zero":false},"axis":{"values":[-4,-3,-2,-1],"labels":false,"title":null}}},
 "layer":[{"data":{"name":"samples"},"mark":{"type":"circle","size":16,"color":"black","opacity":0.3}},{"data":{"name":"truth"},"mark":{"type":"circle","size":170,"fill":"#ff0000","stroke":"black","strokeWidth":1,"opacity":1}}]},
{"width":210,"height":211,
 "encoding":{"x":{"field":"v","type":"quantitative","scale":{"domain":[-2.242,2.848],"nice":false,"zero":false},"axis":{"values":[-2,0,2],"labels":false,"title":null}},
 "y":{"field":"s","type":"quantitative","scale":{"domain":[-4.165,-0.62],"nice":false,"zero":false},"axis":{"values":[-4,-3,-2,-1],"labels":false,"title":null}}},
 "layer":[{"data":{"name":"samples"},"mark":{"type":"circle","size":16,"color":"black","opacity":0.3}},{"data":{"name":"truth"},"mark":{"type":"circle","size":170,"fill":"#ff0000","stroke":"black","strokeWidth":1,"opacity":1}}]},
{"width":210,"height":211,
 "encoding":{"x":{"field":"t","type":"quantitative","scale":{"domain":[0.446,1.132],"nice":false,"zero":false},"axis":{"values":[0.6,0.8,1.0],"labels":false,"title":null}},
 "y":{"field":"s","type":"quantitative","scale":{"domain":[-4.165,-0.62],"nice":false,"zero":false},"axis":{"values":[-4,-3,-2,-1],"labels":false,"title":null}}},
 "layer":[{"data":{"name":"samples"},"mark":{"type":"circle","size":16,"color":"black","opacity":0.3}},{"data":{"name":"truth"},"mark":{"type":"circle","size":170,"fill":"#ff0000","stroke":"black","strokeWidth":1,"opacity":1}}]},
{"width":210,"height":211,"data":{"name":"kde_s"},"mark":{"type":"line","color":"black","strokeWidth":1.6,"interpolate":"monotone"},
 "encoding":{"x":{"field":"x","type":"quantitative","scale":{"domain":[-4.165,-0.62],"nice":false,"zero":false},"axis":{"values":[-4,-3,-2,-1],"labels":false,"title":null}},
 "y":{"field":"d","type":"quantitative","scale":{"domain":[-0.0355,0.797],"nice":false,"zero":false},"axis":{"values":[0,0.2,0.4,0.6],"labels":false,"title":null}}}},
{"width":210,"height":211,"view":{"stroke":null},"data":{"name":"blank"},"mark":{"type":"point","opacity":0},"encoding":{}},

{"width":210,"height":211,
 "encoding":{"x":{"field":"n","type":"quantitative","scale":{"domain":[13.295,14.304],"nice":false,"zero":false},"axis":{"values":[13.5,14.0],"format":".1f","title":"log₁₀ Nₜₒₜ (cm⁻²)"}},
 "y":{"field":"tau","type":"quantitative","scale":{"domain":[-0.18,9.95],"nice":false,"zero":false},"axis":{"values":[0,2,4,6,8],"format":"d","title":"τₜₒₜ"}}},
 "layer":[{"data":{"name":"samples"},"mark":{"type":"circle","size":16,"color":"black","opacity":0.3}},{"data":{"name":"truth"},"mark":{"type":"circle","size":170,"fill":"#ff0000","stroke":"black","strokeWidth":1,"opacity":1}}]},
{"width":210,"height":211,
 "encoding":{"x":{"field":"dv","type":"quantitative","scale":{"domain":[0.575,4.123],"nice":false,"zero":false},"axis":{"values":[1,2,3,4],"format":"d","title":"ΔV² (km² s⁻²)"}},
 "y":{"field":"tau","type":"quantitative","scale":{"domain":[-0.18,9.95],"nice":false,"zero":false},"axis":{"values":[0,2,4,6,8],"labels":false,"title":null}}},
 "layer":[{"data":{"name":"samples"},"mark":{"type":"circle","size":16,"color":"black","opacity":0.3}},{"data":{"name":"truth"},"mark":{"type":"circle","size":170,"fill":"#ff0000","stroke":"black","strokeWidth":1,"opacity":1}}]},
{"width":210,"height":211,
 "encoding":{"x":{"field":"v","type":"quantitative","scale":{"domain":[-2.242,2.848],"nice":false,"zero":false},"axis":{"values":[-2,0,2],"format":"d","title":"VLSR (km s⁻¹)"}},
 "y":{"field":"tau","type":"quantitative","scale":{"domain":[-0.18,9.95],"nice":false,"zero":false},"axis":{"values":[0,2,4,6,8],"labels":false,"title":null}}},
 "layer":[{"data":{"name":"samples"},"mark":{"type":"circle","size":16,"color":"black","opacity":0.3}},{"data":{"name":"truth"},"mark":{"type":"circle","size":170,"fill":"#ff0000","stroke":"black","strokeWidth":1,"opacity":1}}]},
{"width":210,"height":211,
 "encoding":{"x":{"field":"t","type":"quantitative","scale":{"domain":[0.446,1.132],"nice":false,"zero":false},"axis":{"values":[0.6,0.8,1.0],"format":".1f","title":"log₁₀ Tex,CTEX (K)"}},
 "y":{"field":"tau","type":"quantitative","scale":{"domain":[-0.18,9.95],"nice":false,"zero":false},"axis":{"values":[0,2,4,6,8],"labels":false,"title":null}}},
 "layer":[{"data":{"name":"samples"},"mark":{"type":"circle","size":16,"color":"black","opacity":0.3}},{"data":{"name":"truth"},"mark":{"type":"circle","size":170,"fill":"#ff0000","stroke":"black","strokeWidth":1,"opacity":1}}]},
{"width":210,"height":211,
 "encoding":{"x":{"field":"s","type":"quantitative","scale":{"domain":[-4.165,-0.62],"nice":false,"zero":false},"axis":{"values":[-4,-3,-2,-1],"format":"d","title":"log₁₀ σ²CTEX"}},
 "y":{"field":"tau","type":"quantitative","scale":{"domain":[-0.18,9.95],"nice":false,"zero":false},"axis":{"values":[0,2,4,6,8],"labels":false,"title":null}}},
 "layer":[{"data":{"name":"samples"},"mark":{"type":"circle","size":16,"color":"black","opacity":0.3}},{"data":{"name":"truth"},"mark":{"type":"circle","size":170,"fill":"#ff0000","stroke":"black","strokeWidth":1,"opacity":1}}]},
{"width":210,"height":211,"data":{"name":"kde_tau"},"mark":{"type":"line","color":"black","strokeWidth":1.6,"interpolate":"monotone"},
 "encoding":{"x":{"field":"x","type":"quantitative","scale":{"domain":[-0.18,9.95],"nice":false,"zero":false},"axis":{"values":[0,5],"format":"d","title":"τₜₒₜ"}},
 "y":{"field":"d","type":"quantitative","scale":{"domain":[-0.0223,0.519],"nice":false,"zero":false},"axis":{"values":[0,0.1,0.2,0.3,0.4,0.5],"labels":false,"title":null}}}}
],
"config":{
 "view":{"stroke":"black","strokeWidth":1},
 "axis":{"grid":false,"domain":false,"ticks":true,"tickColor":"black","tickSize":3.5,"tickWidth":0.8,"labelFont":"Liberation Serif","labelFontSize":16,"labelColor":"black","labelPadding":3,"labelFlush":false,"labelOverlap":false,"titleFont":"Liberation Serif","titleFontSize":17,"titleFontWeight":"normal","titleColor":"black"},
 "axisX":{"titlePadding":8},
 "axisY":{"titlePadding":9}
}
}
